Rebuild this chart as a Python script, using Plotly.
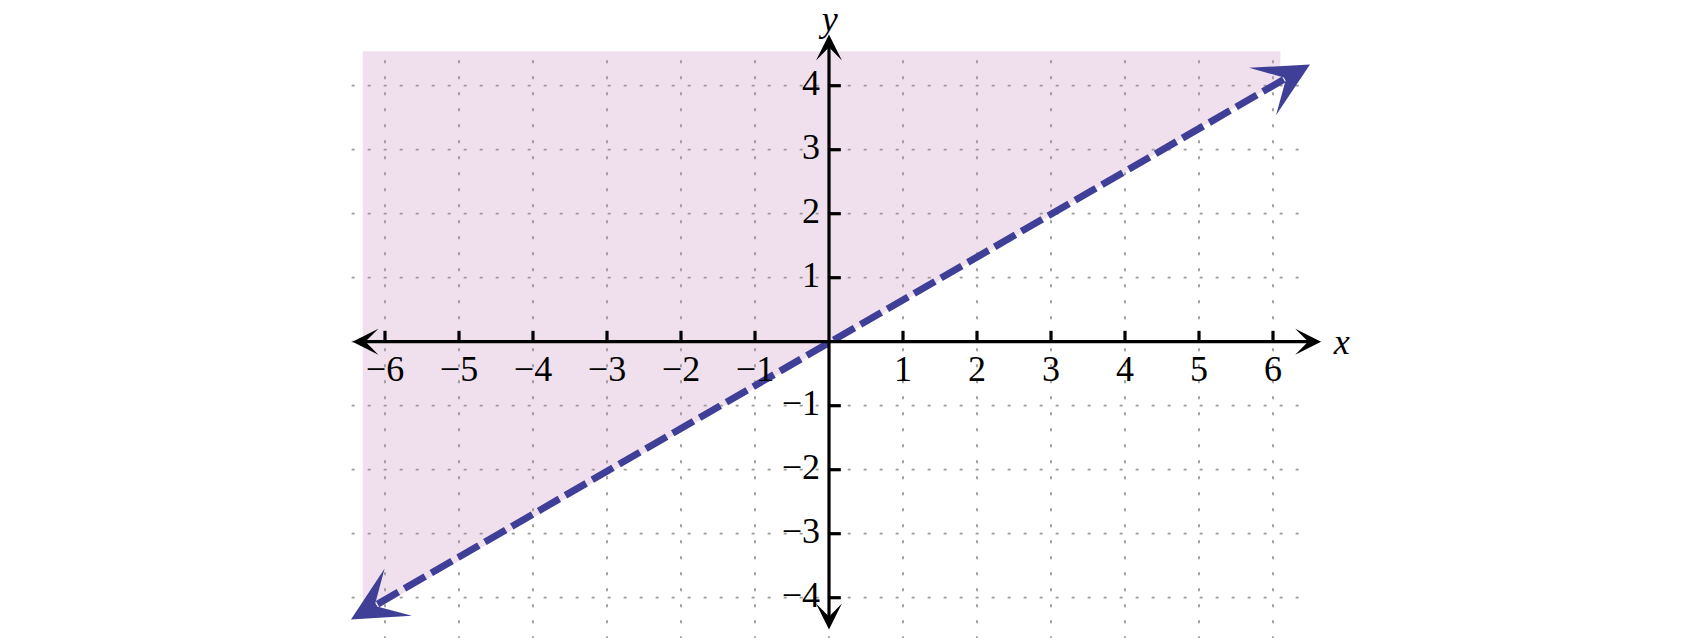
import plotly.graph_objects as go

# tick values and labels
x_ticks = [-6, -5, -4, -3, -2, -1, 1, 2, 3, 4, 5, 6]
y_ticks = [-4, -3, -2, -1, 1, 2, 3, 4]
grid_x = [-6, -5, -4, -3, -2, -1, 0, 1, 2, 3, 4, 5, 6]
grid_y = [-4, -3, -2, -1, 0, 1, 2, 3, 4]

# boundary line y = 2x/3 (dashed)
line_x = [-6.1, 6.15]
line_y = [-4.1, 4.1]
line_tip_x = [-6.46, 6.50]
line_tip_y = [-4.34, 4.33]

# shaded half-plane (above the line)
shade_x = [-6.3, 6.1, 6.1, -6.3]
shade_y = [4.54, 4.54, 4.07, -4.3]

# axis extents
xaxis_ends = [-6.46, 6.65]
yaxis_ends = [-4.52, 4.80]
grid_xlim = [-6.45, 6.45]
grid_ylim = [-4.65, 4.54]

def fmt(v):
    return str(v).replace("-", "\u2212")

fig = go.Figure()

fig.add_trace(go.Scatter(
    x=shade_x, y=shade_y, fill="toself", fillcolor="rgb(240,224,237)",
    mode="none", hoverinfo="skip", showlegend=False,
))

# dotted grid
gx, gy = [], []
for v in grid_x:
    gx += [v, v, None]
    gy += [grid_ylim[0], grid_ylim[1], None]
for v in grid_y:
    gx += [grid_xlim[0], grid_xlim[1], None]
    gy += [v, v, None]
fig.add_trace(go.Scatter(
    x=gx, y=gy, mode="lines", hoverinfo="skip", showlegend=False,
    line=dict(color="#999999", width=1.8, dash="3px,13px"),
))

# tick marks
tx, ty = [], []
for v in x_ticks:
    tx += [v, v, None]
    ty += [0, 0.17, None]
for v in y_ticks:
    tx += [0, 0.16, None]
    ty += [v, v, None]
fig.add_trace(go.Scatter(
    x=tx, y=ty, mode="lines", hoverinfo="skip", showlegend=False,
    line=dict(color="black", width=3.2),
))

# boundary line
fig.add_trace(go.Scatter(
    x=line_x, y=line_y, mode="lines", hoverinfo="skip", showlegend=False,
    line=dict(color="#3f3f98", width=7, dash="24px,7px"),
))

# axes with arrowheads at both ends
axis_arrow = dict(xref="x", yref="y", axref="x", ayref="y", text="",
                  showarrow=True, arrowside="end+start",
                  arrowhead=3, startarrowhead=3,
                  arrowsize=1.35, startarrowsize=1.35,
                  arrowwidth=3.2, arrowcolor="black")
fig.add_annotation(x=xaxis_ends[1], y=0, ax=xaxis_ends[0], ay=0, **axis_arrow)
fig.add_annotation(x=0, y=yaxis_ends[1], ax=0, ay=yaxis_ends[0], **axis_arrow)

# arrowheads on the boundary line
for i in range(2):
    fig.add_annotation(x=line_tip_x[i], y=line_tip_y[i], ax=line_x[i], ay=line_y[i],
                       xref="x", yref="y", axref="x", ayref="y", text="",
                       showarrow=True, arrowhead=3, arrowsize=1.3,
                       arrowwidth=7, arrowcolor="#3f3f98")

font = dict(family="Liberation Serif, Times New Roman, serif", size=36, color="black")

fig.add_trace(go.Scatter(
    x=x_ticks, y=[-0.48] * len(x_ticks), mode="text",
    text=[fmt(v) for v in x_ticks], textposition="middle center",
    textfont=font, hoverinfo="skip", showlegend=False,
))
fig.add_trace(go.Scatter(
    x=[-0.12] * len(y_ticks), y=y_ticks, mode="text",
    text=[fmt(v) for v in y_ticks], textposition="middle left",
    textfont=font, hoverinfo="skip", showlegend=False,
))
fig.add_trace(go.Scatter(
    x=[6.93, 0.01], y=[-0.05, 5.0], mode="text", text=["x", "y"],
    textposition="middle center", hoverinfo="skip", showlegend=False,
    textfont=dict(family="Liberation Serif, Times New Roman, serif", size=36,
                  color="black", style="italic"),
))

fig.update_xaxes(range=[-829 / 74, (1700 - 829) / 74], visible=False)
fig.update_yaxes(range=[(341.7 - 638) / 64, 341.7 / 64], visible=False)
fig.update_layout(
    width=1700, height=638,
    margin=dict(l=0, r=0, t=0, b=0),
    plot_bgcolor="white", paper_bgcolor="white",
)

fig.write_html("out.html", config={"displayModeBar": False},
               post_script="document.body.style.margin='0';")
